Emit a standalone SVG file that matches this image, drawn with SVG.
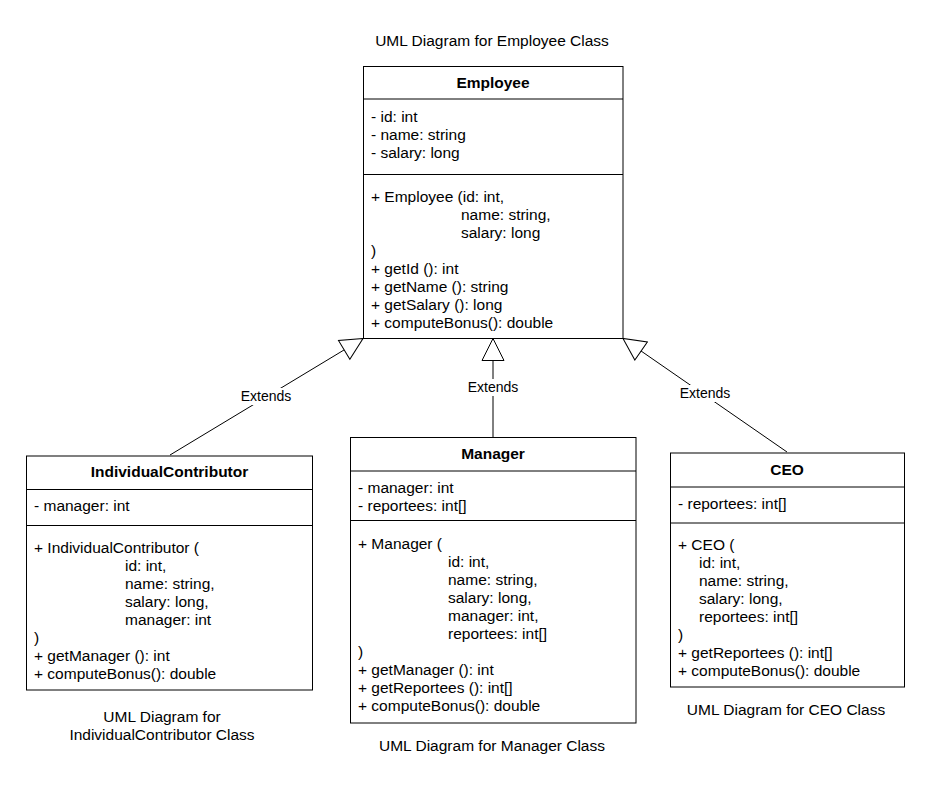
<svg xmlns="http://www.w3.org/2000/svg" width="951" height="786" viewBox="0 0 951 786">
<defs>
<style>
text{font-family:"Liberation Sans",Arial,sans-serif;font-size:15.5px;fill:#000}
.h{font-weight:bold;text-anchor:middle}
.c{text-anchor:middle}
.lbl{font-size:14px;text-anchor:middle}
.box{fill:#fff;stroke:#000;stroke-width:1}
.div{stroke:#000;stroke-width:1}
.conn{stroke:#000;stroke-width:1;fill:none;marker-end:url(#tri)}
.lb{fill:#fff}
</style>
<marker id="tri" markerUnits="userSpaceOnUse" markerWidth="24" markerHeight="24" viewBox="-1 -1 24 24" refX="22" refY="11" orient="auto">
<path d="M22 11 L0 0 L0 22 Z" fill="#fff" stroke="#000" stroke-width="1"/>
</marker>
</defs>
<rect width="951" height="786" fill="#fff"/>

<g id="connectors">
<path class="conn" d="M170 455 L363 338.5"/>
<path class="conn" d="M493 437 L493 338.5"/>
<path class="conn" d="M787 452 L623 338.5"/>
<rect class="lb" x="239" y="388" width="54" height="17"/>
<text class="lbl" x="266" y="401">Extends</text>
<rect class="lb" x="466" y="379" width="54" height="17"/>
<text class="lbl" x="493" y="392">Extends</text>
<rect class="lb" x="678" y="385" width="54" height="17"/>
<text class="lbl" x="705" y="398">Extends</text>
</g>

<g id="employee">
<rect class="box" x="363.5" y="66.5" width="259.5" height="272"/>
<line class="div" x1="363.5" y1="99" x2="623" y2="99"/>
<line class="div" x1="363.5" y1="174.5" x2="623" y2="174.5"/>
<text class="h" x="493" y="88">Employee</text>
<text x="371" y="122">- id: int</text>
<text x="371" y="140">- name: string</text>
<text x="371" y="158">- salary: long</text>
<text x="371" y="202">+ Employee (id: int,</text>
<text x="461" y="220">name: string,</text>
<text x="461" y="238">salary: long</text>
<text x="371" y="256">)</text>
<text x="371" y="274">+ getId (): int</text>
<text x="371" y="292">+ getName (): string</text>
<text x="371" y="310">+ getSalary (): long</text>
<text x="371" y="328">+ computeBonus(): double</text>
</g>

<g id="individualcontributor">
<rect class="box" x="26.5" y="456" width="286" height="234"/>
<line class="div" x1="26.5" y1="489.5" x2="312.5" y2="489.5"/>
<line class="div" x1="26.5" y1="525.5" x2="312.5" y2="525.5"/>
<text class="h" x="169.5" y="477">IndividualContributor</text>
<text x="34" y="511">- manager: int</text>
<text x="34" y="553">+ IndividualContributor (</text>
<text x="125" y="571">id: int,</text>
<text x="125" y="589">name: string,</text>
<text x="125" y="607">salary: long,</text>
<text x="125" y="625">manager: int</text>
<text x="34" y="643">)</text>
<text x="34" y="661">+ getManager (): int</text>
<text x="34" y="679">+ computeBonus(): double</text>
</g>

<g id="manager">
<rect class="box" x="350.5" y="437.5" width="285.5" height="285.5"/>
<line class="div" x1="350.5" y1="471" x2="636" y2="471"/>
<line class="div" x1="350.5" y1="520.5" x2="636" y2="520.5"/>
<text class="h" x="493" y="459">Manager</text>
<text x="358" y="493">- manager: int</text>
<text x="358" y="511">- reportees: int[]</text>
<text x="358" y="549">+ Manager (</text>
<text x="448" y="567">id: int,</text>
<text x="448" y="585">name: string,</text>
<text x="448" y="603">salary: long,</text>
<text x="448" y="621">manager: int,</text>
<text x="448" y="639">reportees: int[]</text>
<text x="358" y="657">)</text>
<text x="358" y="675">+ getManager (): int</text>
<text x="358" y="693">+ getReportees (): int[]</text>
<text x="358" y="711">+ computeBonus(): double</text>
</g>

<g id="ceo">
<rect class="box" x="670.5" y="453" width="234" height="234"/>
<line class="div" x1="670.5" y1="487" x2="904.5" y2="487"/>
<line class="div" x1="670.5" y1="523" x2="904.5" y2="523"/>
<text class="h" x="787" y="475">CEO</text>
<text x="678" y="509">- reportees: int[]</text>
<text x="678" y="550">+ CEO (</text>
<text x="699" y="568">id: int,</text>
<text x="699" y="586">name: string,</text>
<text x="699" y="604">salary: long,</text>
<text x="699" y="622">reportees: int[]</text>
<text x="678" y="640">)</text>
<text x="678" y="658">+ getReportees (): int[]</text>
<text x="678" y="676">+ computeBonus(): double</text>
</g>

<g id="captions">
<text class="c" x="492" y="46">UML Diagram for Employee Class</text>
<text class="c" x="162" y="722">UML Diagram for</text>
<text class="c" x="162" y="740">IndividualContributor Class</text>
<text class="c" x="492" y="751">UML Diagram for Manager Class</text>
<text class="c" x="786" y="715">UML Diagram for CEO Class</text>
</g>
</svg>
